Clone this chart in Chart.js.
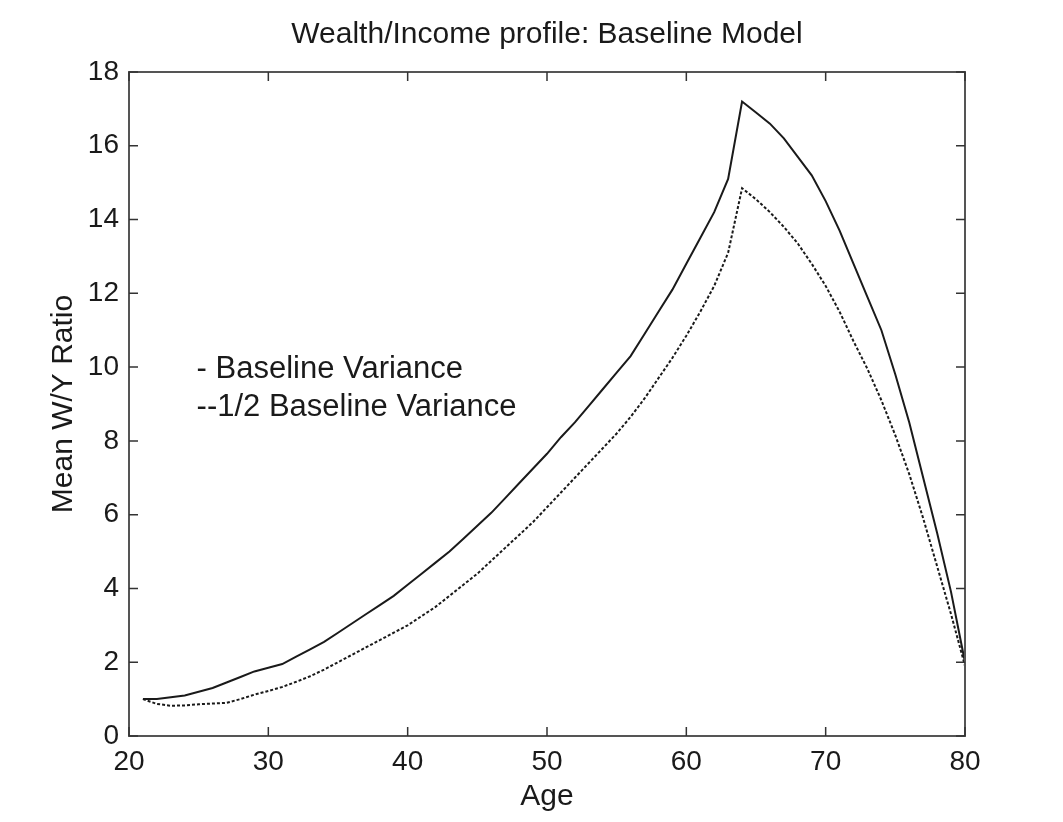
<!DOCTYPE html>
<html>
<head>
<meta charset="utf-8">
<title>Wealth/Income profile: Baseline Model</title>
<script src="https://cdn.jsdelivr.net/npm/chart.js@4"></script>
<style>
    html, body { margin: 0; padding: 0; background: #fff; }
    #wrap { width: 1063px; height: 822px; }
</style>
</head>
<body>
<div id="wrap"><canvas id="chart"></canvas></div>
<script>
// ages 21..80
const ages = [];
for (let a = 21; a <= 80; a++) ages.push(a);

// mean wealth / income ratio, baseline variance (solid)
const baselineRatio = [
    1.0, 1.0, 1.05, 1.1, 1.2, 1.3, 1.45, 1.6, 1.75, 1.85,
    1.95, 2.15, 2.35, 2.55, 2.8, 3.05, 3.3, 3.55, 3.8, 4.1,
    4.4, 4.7, 5.0, 5.35, 5.7, 6.05, 6.45, 6.85, 7.25, 7.65,
    8.1, 8.5, 8.95, 9.4, 9.85, 10.3, 10.9, 11.5, 12.1, 12.8,
    13.5, 14.2, 15.1, 17.2, 16.9, 16.6, 16.2, 15.7, 15.2, 14.5,
    13.7, 12.8, 11.9, 11.0, 9.8, 8.5, 7.0, 5.5, 3.9, 2.0
];

// half baseline variance (dotted)
const halfVarRatio = [
    1.0, 0.87, 0.82, 0.83, 0.86, 0.88, 0.9, 1.0, 1.12, 1.22,
    1.33, 1.47, 1.62, 1.8, 2.0, 2.2, 2.4, 2.6, 2.8, 3.0,
    3.25, 3.5, 3.8, 4.1, 4.4, 4.75, 5.1, 5.45, 5.8, 6.2,
    6.6, 7.0, 7.4, 7.8, 8.2, 8.65, 9.15, 9.7, 10.25, 10.85,
    11.5, 12.2, 13.1, 14.85, 14.55, 14.2, 13.8, 13.35, 12.8, 12.2,
    11.5, 10.7, 9.95, 9.1, 8.15, 7.1, 5.9, 4.6, 3.3, 1.9
];

const legendLines = ['- Baseline Variance', '--1/2 Baseline Variance'];

const FONT = '"Liberation Sans", Arial, sans-serif';
const INK = '#1a1a1a';

function toPoints(xs, ys) {
    return xs.map((x, i) => ({ x: x, y: ys[i] }));
}

// box around plot, inward ticks on all four sides, text legend inside
const matlabAxes = {
    id: 'matlabAxes',
    afterDatasetsDraw(chart) {
        const { ctx, chartArea: a, scales } = chart;
        ctx.save();
        ctx.strokeStyle = '#555';
        ctx.lineWidth = 2;
        ctx.strokeRect(a.left, a.top, a.right - a.left, a.bottom - a.top);
        ctx.lineWidth = 1.5;
        ctx.strokeStyle = '#333';
        const len = 9;
        scales.x.ticks.forEach((t) => {
            const px = scales.x.getPixelForValue(t.value);
            ctx.beginPath();
            ctx.moveTo(px, a.bottom); ctx.lineTo(px, a.bottom - len);
            ctx.moveTo(px, a.top); ctx.lineTo(px, a.top + len);
            ctx.stroke();
        });
        scales.y.ticks.forEach((t) => {
            const py = scales.y.getPixelForValue(t.value);
            ctx.beginPath();
            ctx.moveTo(a.left, py); ctx.lineTo(a.left + len, py);
            ctx.moveTo(a.right, py); ctx.lineTo(a.right - len, py);
            ctx.stroke();
        });

        ctx.fillStyle = INK;
        ctx.font = '31px ' + FONT;
        ctx.textBaseline = 'middle';
        ctx.textAlign = 'left';
        const lx = scales.x.getPixelForValue(24.85);
        ctx.fillText(legendLines[0], lx, scales.y.getPixelForValue(9.95));
        ctx.fillText(legendLines[1], lx, scales.y.getPixelForValue(8.9));
        ctx.restore();
    }
};

function init() {
    const canvas = document.getElementById('chart');
    new Chart(canvas.getContext('2d'), {
        type: 'line',
        data: {
            datasets: [
                {
                    label: 'Baseline Variance',
                    data: toPoints(ages, baselineRatio),
                    borderColor: INK,
                    borderWidth: 2,
                    pointRadius: 0,
                    tension: 0,
                },
                {
                    label: '1/2 Baseline Variance',
                    data: toPoints(ages, halfVarRatio),
                    borderColor: INK,
                    borderWidth: 2,
                    borderDash: [3, 2],
                    pointRadius: 0,
                    tension: 0,
                },
            ],
        },
        options: {
            responsive: true,
            maintainAspectRatio: false,
            animation: false,
            layout: { padding: { top: 0, left: 44, right: 98, bottom: 5 } },
            scales: {
                x: {
                    type: 'linear',
                    min: 20,
                    max: 80,
                    grid: { display: false, drawTicks: false },
                    border: { display: false },
                    ticks: { stepSize: 10, color: INK, padding: 9, font: { family: FONT, size: 28 } },
                    title: { display: true, text: 'Age', color: INK, padding: { top: 2, bottom: 2 }, font: { family: FONT, size: 30 } },
                    afterFit(scale) { scale.height = 81; },
                },
                y: {
                    min: 0,
                    max: 18,
                    grid: { display: false, drawTicks: false },
                    border: { display: false },
                    ticks: { stepSize: 2, color: INK, padding: 10, font: { family: FONT, size: 28 } },
                    title: { display: true, text: 'Mean W/Y Ratio', color: INK, padding: { top: 2, bottom: 2 }, font: { family: FONT, size: 30 } },
                    afterFit(scale) { scale.width = 85; },
                },
            },
            plugins: {
                legend: { display: false },
                tooltip: { enabled: false },
                title: {
                    display: true,
                    fullSize: false,
                    text: 'Wealth/Income profile: Baseline Model',
                    color: INK,
                    padding: { top: 17, bottom: 19 },
                    font: { family: FONT, size: 30, weight: 'normal' },
                },
            },
        },
        plugins: [matlabAxes],
    });
}

document.addEventListener('DOMContentLoaded', init);
</script>
</body>
</html>
